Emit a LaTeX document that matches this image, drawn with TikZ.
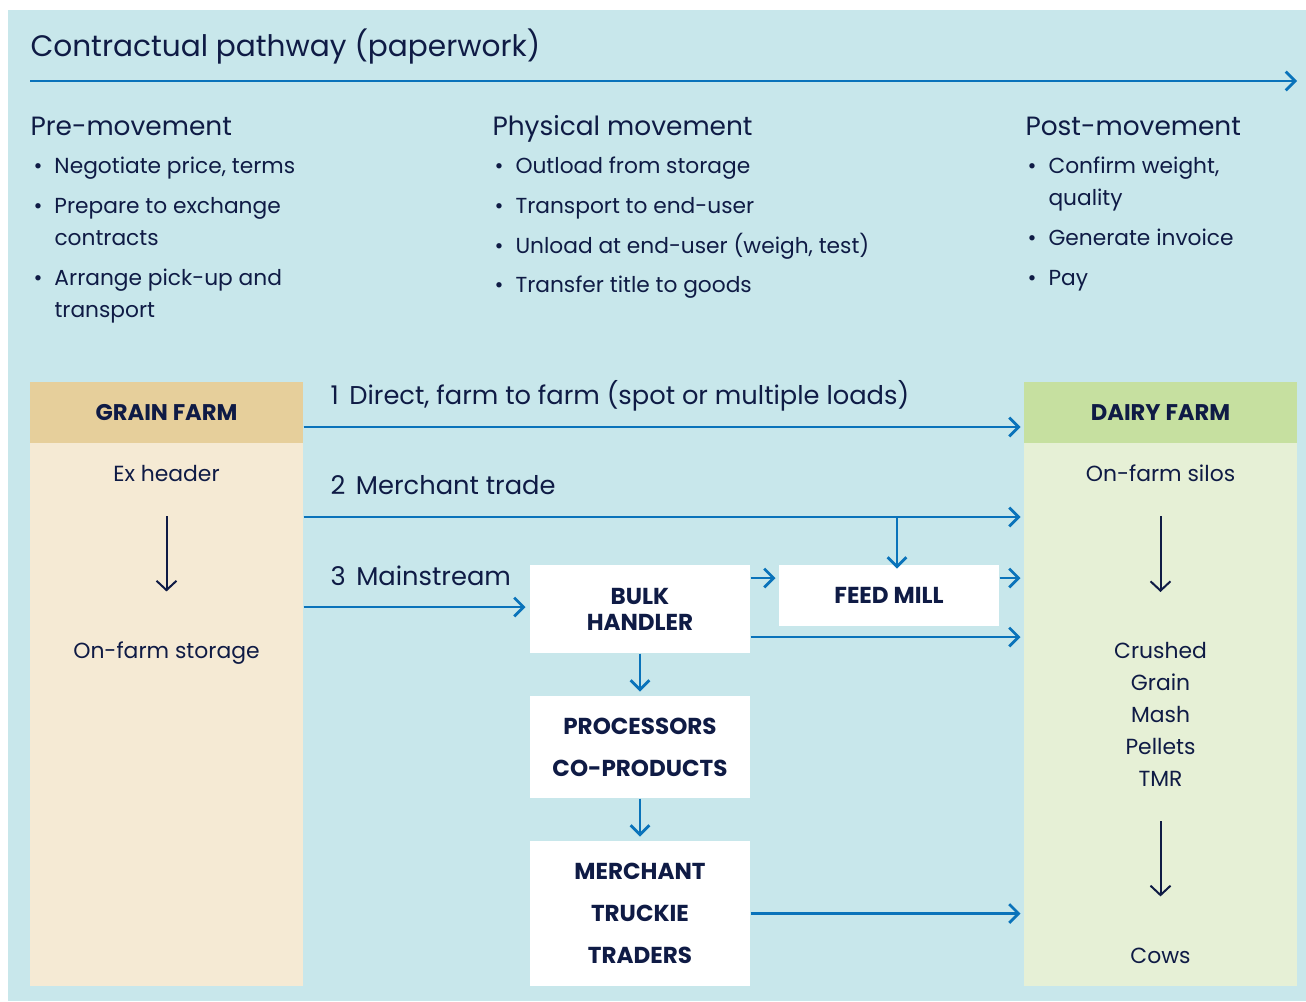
\documentclass[tikz,border=0pt]{standalone}
\usepackage{fontspec}
\setmainfont{Poppins}
\usetikzlibrary{arrows.meta}

\definecolor{bgblue}{HTML}{C8E7EB}
\definecolor{flowblue}{HTML}{0A73BA}
\definecolor{inkblue}{HTML}{0F1B45}
\definecolor{grainhead}{HTML}{E6CF9B}
\definecolor{grainbody}{HTML}{F5EAD4}
\definecolor{dairyhead}{HTML}{C6E0A0}
\definecolor{dairybody}{HTML}{E6F0D6}

\tikzset{every picture/.style={line width=0.75pt}}
\tikzset{
  flow/.style={draw=flowblue, line width=2.1pt, -{Straight Barb[length=7pt,width=14pt]}},
  stepdown/.style={draw=inkblue, line width=1.5pt, -{Straight Barb[length=7pt,width=15pt]}},
  title/.style={anchor=base west, inner sep=0pt, text=inkblue, font=\fontsize{22.2}{26}\selectfont},
  phase/.style={anchor=base west, inner sep=0pt, text=inkblue, font=\fontsize{19.8}{23}\selectfont},
  item/.style={anchor=base west, inner sep=0pt, text=inkblue, align=left, font=\fontsize{16.3}{24}\selectfont},
  route/.style={anchor=base west, inner sep=0pt, text=inkblue, font=\fontsize{19.3}{22}\selectfont},
  farmtext/.style={anchor=base, inner sep=0pt, text=inkblue, align=center, font=\fontsize{16.4}{24}\selectfont},
  farmbody/.style={rectangle, minimum width=204.75pt, minimum height=453pt, inner sep=0pt},
  farmhead/.style={rectangle, minimum width=204.75pt, minimum height=45.75pt, inner sep=0pt, text=inkblue, font=\bfseries\fontsize{17}{20}\selectfont},
  stage/.style={rectangle, fill=white, minimum width=165pt, inner sep=0pt, text=inkblue, align=center, font=\bfseries\fontsize{17.3}{31.5}\selectfont},
}
\newcommand{\bul}{\llap{•\hspace{9pt}}}

\begin{document}
\begin{tikzpicture}[x=0.75pt,y=0.75pt,yscale=-1]
\useasboundingbox (0,0) rectangle (1306,1001);

% Background
\fill[bgblue] (8,10) rectangle (1306,1001);

% Title and paperwork arrow
\node[title] (ttl) at (30,56) {Contractual pathway (paperwork)};
\coordinate (cpstart) at (30,81);
\coordinate (cpend) at (1297,81);
\draw[flow] (cpstart) -- (cpend);

% Phase headings
\node[phase] (pre) at (30,135) {Pre-movement};
\node[phase] (phys) at (492,135) {Physical movement};
\node[phase] (post) at (1025,135) {Post-movement};

% Pre-movement items (base = last line)
\node[item] (pre1) at (54,173) {\bul Negotiate price, terms};
\node[item] (pre2) at (54,245) {\bul Prepare to exchange\\contracts};
\node[item] (pre3) at (54,317) {\bul Arrange pick-up and\\transport};
% Physical movement items
\node[item] (phys1) at (515,173) {\bul Outload from storage};
\node[item] (phys2) at (515,213) {\bul Transport to end-user};
\node[item] (phys3) at (515,253) {\bul Unload at end-user (weigh, test)};
\node[item] (phys4) at (515,292) {\bul Transfer title to goods};
% Post-movement items
\node[item] (post1) at (1048,205) {\bul Confirm weight,\\quality};
\node[item] (post2) at (1048,245) {\bul Generate invoice};
\node[item] (post3) at (1048,285) {\bul Pay};

% Grain farm
\node[farmbody, fill=grainbody] (grain) at (166.5,684) {};
\node[farmhead, fill=grainhead] (grainhd) at (166.5,412.5) {GRAIN FARM};
\node[farmtext] (exhdr) at (166.5,481) {Ex header};
\node[farmtext] (fstore) at (166.5,658) {On-farm storage};
\draw[stepdown, shorten <=26pt, shorten >=37pt] (exhdr) -- (fstore);

% Dairy farm
\node[farmbody, fill=dairybody] (dairy) at (1160.5,684) {};
\node[farmhead, fill=dairyhead] (dairyhd) at (1160.5,412.5) {DAIRY FARM};
\node[farmtext] (silos) at (1160.5,481) {On-farm silos};
\node[farmtext] (feeds) at (1160.5,786) {Crushed\\Grain\\Mash\\Pellets\\TMR};
\node[farmtext] (cows) at (1160.5,963) {Cows};
\draw[stepdown, shorten <=26pt, shorten >=37pt] (silos) -- (feeds);
\draw[stepdown, shorten <=26pt, shorten >=38pt] (feeds) -- (cows);

% Middle stages
\node[stage, minimum height=66pt, font=\bfseries\fontsize{17.3}{19.5}\selectfont] (bulk) at (640,609) {BULK\\HANDLER};
\node[stage, minimum height=45.75pt] (mill) at (889,595.5) {FEED MILL};
\node[stage, minimum height=76.5pt] (proc) at (640,747) {PROCESSORS\\CO-PRODUCTS};
\node[stage, minimum height=108.75pt] (merch) at (640,913.5) {MERCHANT\\TRUCKIE\\TRADERS};

% Routes
\node[route] (r1lab) at (330,404) {1\hspace{8pt}Direct, farm to farm (spot or multiple loads)};
\node[route] (r2lab) at (330,494) {2\hspace{8pt}Merchant trade};
\node[route] (r3lab) at (330,585) {3\hspace{8pt}Mainstream};
\coordinate (r1) at (0,427);
\coordinate (r2) at (0,517);
\coordinate (r3) at (0,607);
\coordinate (split) at (897,517);
\coordinate (r4) at (0,578);
\coordinate (r5) at (0,637);

\draw[flow, shorten >=2.25pt] (grain.east |- r1) -- (dairy.west |- r1);
\draw[flow, shorten >=2.25pt] (grain.east |- r2) -- (dairy.west |- r2);
\draw[flow] (split) -- ([yshift=3pt]split |- mill.north);
\draw[flow, shorten >=3pt] (grain.east |- r3) -- (bulk.west |- r3);
\draw[flow, shorten >=2.25pt] (bulk.east |- r4) -- (mill.west |- r4);
\draw[flow, shorten >=2.25pt] (mill.east |- r4) -- (dairy.west |- r4);
\draw[flow, shorten >=2.25pt] (bulk.east |- r5) -- (dairy.west |- r5);
\draw[flow, shorten >=3pt] (bulk) -- (proc);
\draw[flow, shorten >=3pt] (proc) -- (merch);
\draw[flow, shorten >=2.25pt] (merch) -- (dairy.west |- merch);

\end{tikzpicture}
\end{document}
